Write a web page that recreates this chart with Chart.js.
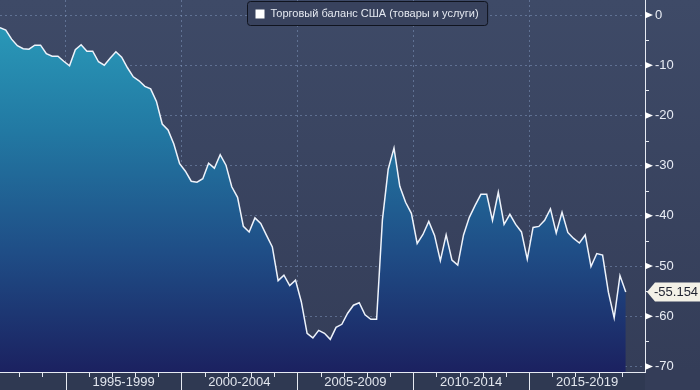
<!DOCTYPE html>
<html>
<head>
<meta charset="utf-8">
<script src="https://cdn.jsdelivr.net/npm/chart.js@4.4.1/dist/chart.umd.min.js"></script>
<style>
  html, body { margin: 0; padding: 0; background: #3b4663; }
  #wrap { width: 700px; height: 390px; position: relative; }
</style>
</head>
<body>
<div id="wrap"><canvas id="chartTradeBalance"></canvas></div>
<script>
const seriesLabel = 'Торговый баланс США (товары и услуги)';
const firstPeriod = 1992.17; // first quarterly observation, as a decimal year
const tradeBalance = [
  -2.5, -3.0, -4.8, -6.1, -6.7, -6.8, -6.0, -6.0, -7.7, -8.2,
  -8.2, -9.2, -10.1, -6.9, -5.9, -7.2, -7.2, -9.3, -10.0, -8.6,
  -7.3, -8.4, -10.5, -12.3, -13.1, -14.2, -14.7, -17.2, -21.7, -22.9,
  -25.7, -29.6, -31.1, -33.1, -33.3, -32.6, -29.5, -30.5, -27.8, -29.9,
  -34.2, -36.3, -42.1, -43.2, -40.4, -41.5, -43.9, -46.2, -52.9, -51.8,
  -53.9, -52.8, -57.1, -63.4, -64.3, -62.8, -63.4, -64.6, -62.2, -61.6,
  -59.4, -57.8, -57.3, -59.7, -60.6, -60.6, -40.8, -30.7, -26.5, -34.1,
  -37.3, -39.5, -45.5, -43.7, -41.1, -43.9, -48.9, -43.8, -48.8, -49.8,
  -43.8, -40.3, -37.9, -35.7, -35.7, -40.9, -35.3, -41.7, -39.7, -41.7,
  -43.2, -48.6, -42.3, -42.1, -40.9, -38.6, -43.4, -39.3, -43.3, -44.5,
  -45.4, -43.8, -50.1, -47.5, -47.8, -55.2, -60.3, -51.9, -55.154
];
const yTicks = [0, -10, -20, -30, -40, -50, -60, -70];
const periodStarts = [1995, 2000, 2005, 2010, 2015];
const periodLabels = ['1995-1999', '2000-2004', '2005-2009', '2010-2014', '2015-2019'];
const yearTicks = [];
for (let yr = 1993; yr <= 2019; yr++) yearTicks.push(yr);

const gridColor = 'rgba(140, 165, 205, 0.45)';
const fontFamily = '"Liberation Sans", Arial, sans-serif';

const points = tradeBalance.map((v, i) => ({ x: firstPeriod + i * 0.25, y: v }));
const lastValue = tradeBalance[tradeBalance.length - 1];

// no extra room around the scales: the plot runs to the top and left edges
function noPadding(scale) {
  scale.paddingTop = 0;
  scale.paddingBottom = 0;
  scale.paddingLeft = 0;
  scale.paddingRight = 0;
}

const bloombergPlugin = {
  id: 'bloomberg',
  beforeDraw(chart) {
    const { ctx, chartArea: a, width, height } = chart;
    ctx.save();
    const bg = ctx.createLinearGradient(0, 0, 0, a.bottom);
    bg.addColorStop(0, '#3e4a67');
    bg.addColorStop(1, '#343d58');
    ctx.fillStyle = bg;
    ctx.fillRect(0, 0, width, height);
    ctx.fillStyle = '#2f3952';
    ctx.fillRect(0, a.bottom, a.right, height - a.bottom);
    ctx.restore();
  },
  afterDraw(chart) {
    const { ctx, chartArea: a, scales: { x, y } } = chart;
    ctx.save();
    ctx.strokeStyle = '#e6eaf2';
    ctx.lineWidth = 1;

    // year ticks below the x axis, full height at each five year block
    yearTicks.forEach(yr => {
      const px = Math.round(x.getPixelForValue(yr)) + 0.5;
      const major = periodStarts.includes(yr);
      ctx.beginPath();
      ctx.moveTo(px, a.bottom);
      ctx.lineTo(px, major ? chart.height : a.bottom + 5);
      ctx.stroke();
    });

    // arrow markers and half-step ticks on the y axis
    ctx.fillStyle = '#ffffff';
    yTicks.forEach(v => {
      const py = y.getPixelForValue(v);
      ctx.beginPath();
      ctx.moveTo(a.right, py - 3.5);
      ctx.lineTo(a.right + 8, py);
      ctx.lineTo(a.right, py + 3.5);
      ctx.closePath();
      ctx.fill();
      const pm = Math.round(y.getPixelForValue(v - 5)) + 0.5;
      if (pm < a.bottom) {
        ctx.beginPath();
        ctx.moveTo(a.right, pm);
        ctx.lineTo(a.right + 4, pm);
        ctx.stroke();
      }
    });

    // last value tag
    const ly = y.getPixelForValue(lastValue);
    ctx.fillStyle = '#f3f1e7';
    ctx.beginPath();
    ctx.moveTo(a.right + 2, ly);
    ctx.lineTo(a.right + 10, ly - 9.5);
    ctx.lineTo(chart.width, ly - 9.5);
    ctx.lineTo(chart.width, ly + 9.5);
    ctx.lineTo(a.right + 10, ly + 9.5);
    ctx.closePath();
    ctx.fill();
    ctx.fillStyle = '#1e2230';
    ctx.font = '13px ' + fontFamily;
    ctx.textBaseline = 'middle';
    ctx.textAlign = 'left';
    ctx.fillText(lastValue.toFixed(3), a.right + 9, ly + 0.5);

    // legend box
    ctx.font = '11px ' + fontFamily;
    const tw = ctx.measureText(seriesLabel).width;
    const bx = 247.5, by = 1.5, bh = 24, bw = 23 + tw + 9;
    ctx.fillStyle = '#38425d';
    ctx.strokeStyle = '#10141f';
    ctx.beginPath();
    ctx.roundRect(bx, by, bw, bh, 3);
    ctx.fill();
    ctx.stroke();
    ctx.fillStyle = '#ffffff';
    ctx.fillRect(bx + 8, by + 8, 9, 9);
    ctx.fillStyle = '#e4e8f0';
    ctx.fillText(seriesLabel, bx + 23, by + bh / 2 + 0.5);
    ctx.restore();
  }
};

new Chart(document.getElementById('chartTradeBalance').getContext('2d'), {
  type: 'line',
  data: {
    datasets: [{
      label: seriesLabel,
      data: points,
      borderColor: '#eef3fb',
      borderWidth: 1.5,
      pointRadius: 0,
      tension: 0,
      fill: 'start',
      backgroundColor: (context) => {
        const area = context.chart.chartArea;
        if (!area) return '#1f5a8c';
        const g = context.chart.ctx.createLinearGradient(0, area.top, 0, area.bottom);
        g.addColorStop(0, '#2ba0bd');
        g.addColorStop(0.35, '#2279a3');
        g.addColorStop(0.68, '#1f4d86');
        g.addColorStop(1, '#1b2160');
        return g;
      }
    }]
  },
  options: {
    responsive: true,
    maintainAspectRatio: false,
    animation: false,
    layout: { padding: 0 },
    plugins: {
      legend: { display: false },
      tooltip: { enabled: false }
    },
    scales: {
      x: {
        type: 'linear',
        min: firstPeriod,
        max: 2020,
        z: 1,
        afterFit: (scale) => { scale.height = 18; noPadding(scale); },
        afterBuildTicks: (scale) => {
          const ticks = [];
          periodStarts.forEach(s => { ticks.push({ value: s }); ticks.push({ value: s + 2.5 }); });
          scale.ticks = ticks;
        },
        ticks: {
          autoSkip: false,
          maxRotation: 0,
          padding: 3,
          color: '#e2e6ee',
          font: { family: fontFamily, size: 13 },
          callback: (value) => {
            const i = periodStarts.indexOf(value - 2.5);
            return i >= 0 ? periodLabels[i] : '';
          }
        },
        grid: {
          drawTicks: false,
          color: (ctx) => (ctx.tick && periodStarts.includes(ctx.tick.value)) ? gridColor : 'transparent'
        },
        border: { display: true, color: '#e6eaf2', width: 1, dash: [2, 3] }
      },
      y: {
        position: 'right',
        min: -71.1,
        max: 3,
        z: 1,
        afterFit: (scale) => { scale.width = 55; noPadding(scale); },
        afterBuildTicks: (scale) => { scale.ticks = yTicks.map(v => ({ value: v })); },
        ticks: {
          padding: 10,
          color: '#e8ecf4',
          font: { family: fontFamily, size: 13 }
        },
        grid: { drawTicks: false, color: gridColor },
        border: { display: true, color: '#e6eaf2', width: 1, dash: [2, 3] }
      }
    }
  },
  plugins: [bloombergPlugin]
});
</script>
</body>
</html>
